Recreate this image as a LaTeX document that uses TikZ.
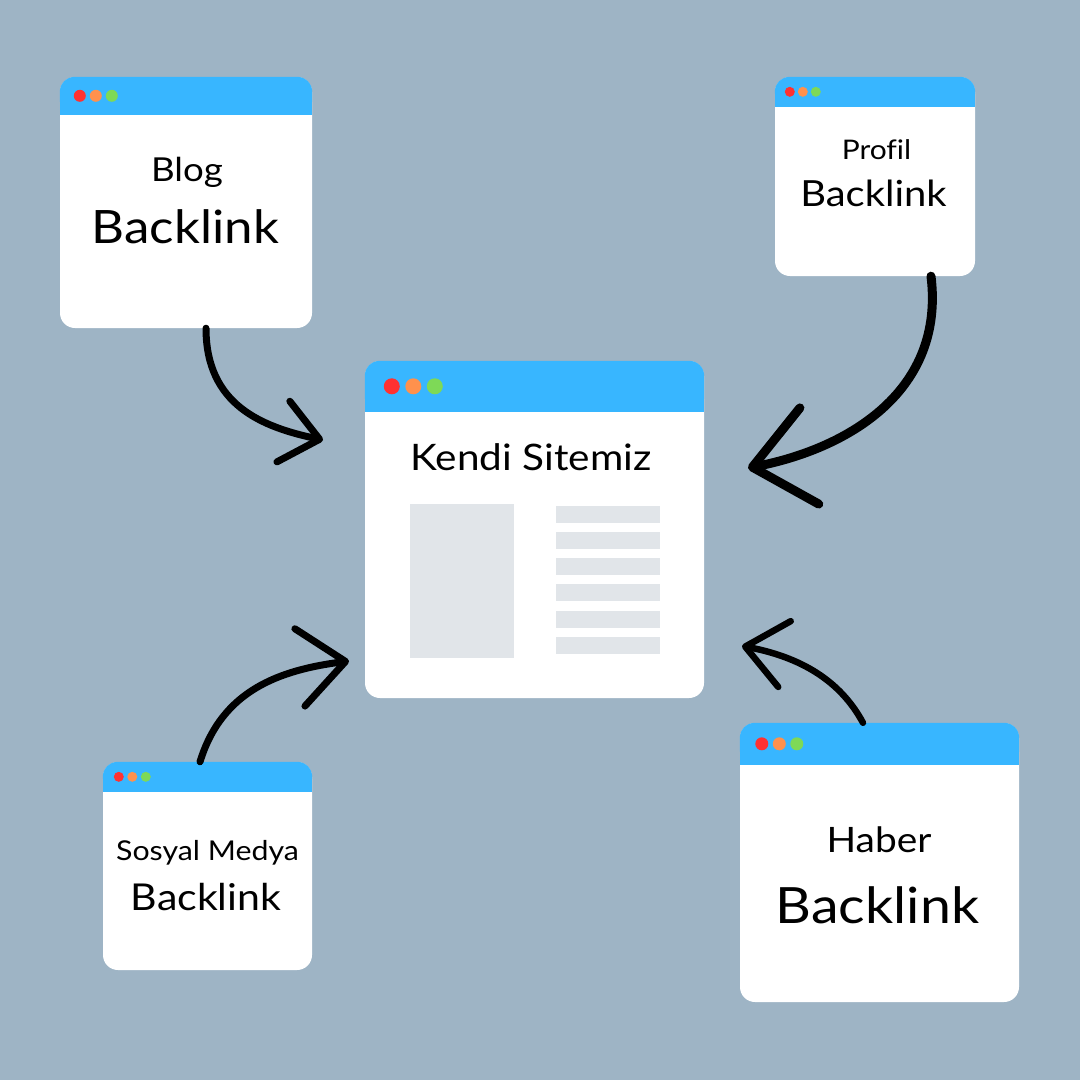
\documentclass[tikz,border=0pt]{standalone}
\usepackage{fontspec}
\setmainfont{Lato}[FakeStretch=1.11, Ligatures=CommonOff]
\usepackage{xcolor}
\usetikzlibrary{positioning, arrows.meta}

\definecolor{bgblue}{HTML}{9EB4C5}
\definecolor{barblue}{HTML}{38B6FF}
\definecolor{dotred}{HTML}{FF3131}
\definecolor{dotorange}{HTML}{FF914D}
\definecolor{dotgreen}{HTML}{7ED957}
\definecolor{blockgray}{HTML}{E1E5E9}

% title bar of a window: node, bar height, dot radius, first dot x, dot gap
\newcommand{\winbar}[5]{%
  \fill[barblue, rounded corners=15pt] (#1.north west) rectangle ([yshift=-#2]#1.north east);
  \fill[barblue] ([yshift=-15pt]#1.north west) rectangle ([yshift=-#2]#1.north east);
  \fill[dotred] ([shift={(#4,-#2/2)}]#1.north west) circle (#3);
  \fill[dotorange] ([shift={(#4+#5,-#2/2)}]#1.north west) circle (#3);
  \fill[dotgreen] ([shift={(#4+2*#5,-#2/2)}]#1.north west) circle (#3);
}

\begin{document}
\begin{tikzpicture}[x=1pt, y=-1pt,
    win/.style = {fill=white, rounded corners=15pt, inner sep=0pt},
    lbl/.style = {anchor=base, inner sep=0pt},
    link/.style = {line width=7pt, line cap=round, line join=round}]
                % Background
                \fill[bgblue] (0,0) rectangle (1080,1080);
                
                % Windows
                \node[win, minimum width=252pt, minimum height=251pt] (blog) at (186,202.5) {};
                \node[win, minimum width=200pt, minimum height=199pt] (profil) at (875,176.5) {};
                \node[win, minimum width=339pt, minimum height=337pt] (site) at (534.5,529.5) {};
                \node[win, minimum width=209pt, minimum height=208pt] (sosyal) at (207.5,866) {};
                \node[win, minimum width=279pt, minimum height=279pt] (haber) at (879.5,862.5) {};
                
                \winbar{blog}{38pt}{6pt}{20pt}{16pt}
                \winbar{profil}{30pt}{5pt}{15pt}{13pt}
                \winbar{site}{51pt}{8pt}{27pt}{21.5pt}
                \winbar{sosyal}{30pt}{5pt}{16pt}{13.5pt}
                \winbar{haber}{42pt}{6.5pt}{22pt}{17.5pt}
                
                % Page content of our own site
                \fill[blockgray] (410,504) rectangle (514,658);
                \foreach \y in {506,532,558,584,611,637}
                    \fill[blockgray] (556,\y) rectangle (660,\y+16.5);
                
                % Labels
                \node[lbl, font=\fontsize{33}{40}\selectfont] (blogT) at (187,181) {Blog};
                \node[lbl, font=\fontsize{46}{55}\selectfont] (blogB) at (185.5,243) {Backlink};
                \node[lbl, font=\fontsize{27}{32}\selectfont] (profilT) at (876.5,159) {Profil};
                \node[lbl, font=\fontsize{36}{43}\selectfont] (profilB) at (873.5,206) {Backlink};
                \node[lbl, font=\fontsize{36.5}{44}\selectfont] (siteT) at (531,470) {Kendi Sitemiz};
                \node[lbl, font=\fontsize{27.3}{33}\selectfont] (sosyalT) at (207.5,860) {Sosyal Medya};
                \node[lbl, font=\fontsize{37}{44}\selectfont] (sosyalB) at (206,910) {Backlink};
                \node[lbl, font=\fontsize{35}{42}\selectfont] (haberT) at (879,852) {Haber};
                \node[lbl, font=\fontsize{50}{60}\selectfont] (haberB) at (877.5,923) {Backlink};
                
                % Arrow tips
                \coordinate (tipblog) at (323,440);
                \coordinate (tipprofil) at (748,468);
                \coordinate (tipsosyal) at (349,661);
                \coordinate (tiphaber) at (742,646);
                
                % Arrows
                \draw[link, -{Straight Barb[length=37pt, width=62pt, round]}] ([xshift=20pt]blog.south) .. controls (206,405) and (262,427) .. (tipblog);
                \draw[link, line width=9pt, -{Straight Barb[length=58pt, width=98pt, round]}] ([xshift=56pt]profil.south) .. controls (945,390) and (850,448) .. (tipprofil);
                \draw[link, -{Straight Barb[length=46pt, width=78pt, round]}] ([xshift=-7.5pt]sosyal.north) .. controls (222,690) and (280,670) .. (tipsosyal);
                \draw[link, line width=6.5pt, -{Straight Barb[length=40pt, width=67pt, round]}] ([xshift=-16.5pt]haber.north) .. controls (840,680) and (800,657) .. (tiphaber);
                
            \end{tikzpicture}
\end{document}
